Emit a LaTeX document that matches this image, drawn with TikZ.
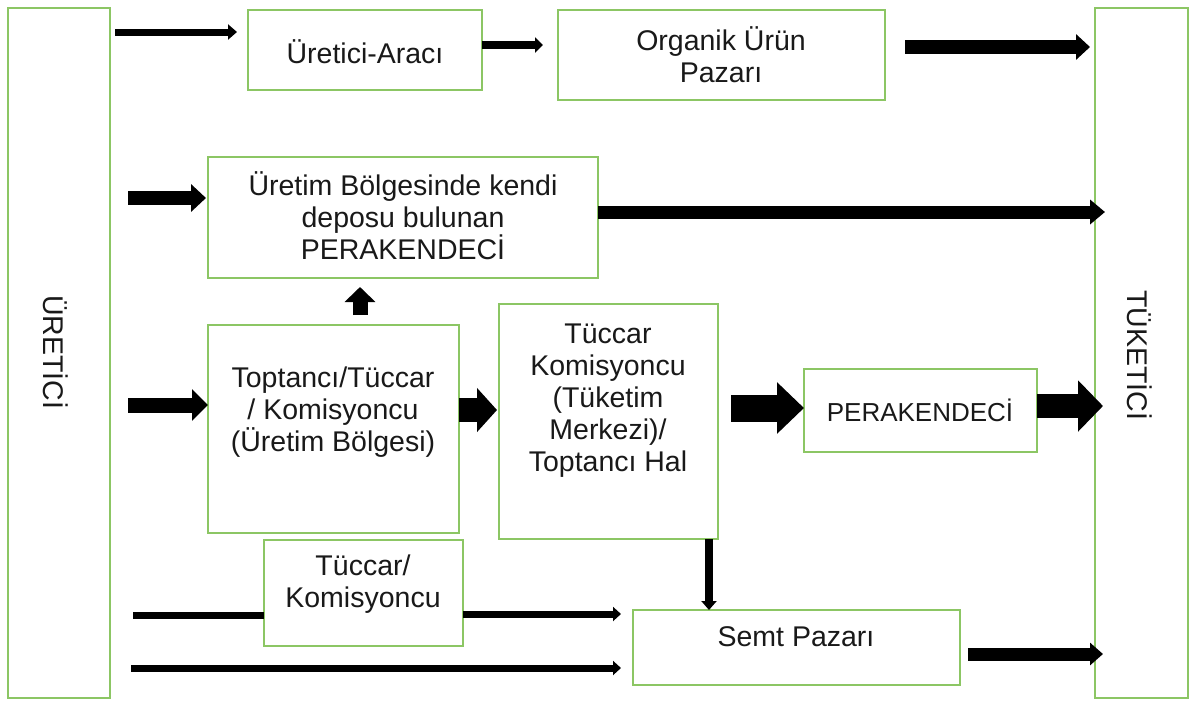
\documentclass[tikz,border=0pt]{standalone}
\usepackage{fontspec}
\setmainfont{Liberation Sans}
\usetikzlibrary{arrows.meta}
\definecolor{bgreen}{RGB}{140,198,100}
\definecolor{txt}{RGB}{25,25,25}
\begin{document}
\begin{tikzpicture}[x=1pt,y=-1pt,
  box/.style={draw=bgreen,line width=2pt,fill=white,inner sep=0pt,outer sep=0pt},
  lbl/.style={align=center,font=\fontsize{28.5}{32}\selectfont,text=txt,inner sep=0pt},
  arr/.style args={#1/#2/#3}{draw=black,line width=#1pt,-{Triangle[length=#2pt,width=#3pt]}}]
\useasboundingbox[fill=white] (0,0) rectangle (1191,702);

% side boxes
\node[box,minimum width=102pt,minimum height=690pt] (ur) at (59,353) {};
\node[lbl,rotate=-90] (urt) at (56,352) {ÜRETİCİ};
\node[box,minimum width=93pt,minimum height=690pt] (tu) at (1141.5,353) {};
\node[lbl,rotate=-90] (tut) at (1140,355) {TÜKETİCİ};

% inner boxes
\node[box,minimum width=234pt,minimum height=80pt] (ua) at (365,50) {};
\node[lbl] (uat) at (365,52) {Üretici-Aracı};
\node[box,minimum width=327pt,minimum height=90pt] (op) at (721.5,55) {};
\node[lbl] (opt) at (721,55) {Organik Ürün\\Pazarı};
\node[box,minimum width=390pt,minimum height=121pt] (ub) at (403,217.5) {};
\node[lbl] (ubt) at (403,216) {Üretim Bölgesinde kendi\\deposu bulunan\\PERAKENDECİ};
\node[box,minimum width=251pt,minimum height=208pt] (tp) at (333.5,429) {};
\node[lbl] (tpt) at (333,412) {Toptancı/Tüccar\\/ Komisyoncu\\(Üretim Bölgesi)};
\node[box,minimum width=219pt,minimum height=235pt] (tc) at (608.5,421.5) {};
\node[lbl] (tct) at (608,401) {Tüccar\\Komisyoncu\\(Tüketim\\Merkezi)/\\Toptancı Hal};
\node[box,minimum width=233pt,minimum height=83pt] (pk) at (920.5,410.5) {};
\node[lbl,font=\fontsize{26}{30}\selectfont] (pkt) at (920,410) {PERAKENDECİ};
\node[box,minimum width=199pt,minimum height=106pt] (tk) at (363.5,593) {};
\node[lbl] (tkt) at (363,584) {Tüccar/\\Komisyoncu};
\node[box,minimum width=327pt,minimum height=75pt] (sp) at (796.5,647.5) {};
\node[lbl] (spt) at (796,637) {Semt Pazarı};

% free-end coordinates
\coordinate (a1s) at (115,32);  \coordinate (a1e) at (237,32);
\coordinate (a2e) at (543,45);
\coordinate (a3s) at (905,47);  \coordinate (a3e) at (1090,47);
\coordinate (a4s) at (128,198); \coordinate (a4e) at (206,198);
\coordinate (a5e) at (1105,212);
\coordinate (a6s) at (360,315); \coordinate (a6e) at (360,287);
\coordinate (a7s) at (128,405);
\coordinate (a8e) at (497,410);
\coordinate (a9s) at (731,408);
\coordinate (a10e) at (1103,406);
\coordinate (b1s) at (133,615); \coordinate (b1e) at (621,614);
\coordinate (b2s) at (131,668); \coordinate (b2e) at (621,668);
\coordinate (a14s) at (968,654); \coordinate (a14e) at (1103,654);

% connectors
\draw[arr=7/9/15] (a1s) -- (a1e);
\draw[arr=8/8/15] (ua.east |- a2e) -- (a2e);
\draw[arr=14/14/25] (a3s) -- (a3e);
\draw[arr=14/15/27] (a4s) -- (a4e);
\draw[arr=13/15/24] (ub.east |- a5e) -- (a5e);
\draw[arr=15/15/30] (a6s) -- (a6e);
\draw[arr=15/16/31] (a7s) -- (a7s -| tp.west);
\draw[arr=24/20/43] (tp.east |- a8e) -- (a8e);
\draw[arr=27/27/50] (a9s) -- (a9s -| pk.west);
\draw[arr=24/25/50] (pk.east |- a10e) -- (a10e);
\draw[arr=8/9/15] ([xshift=-9pt]tc.south east) -- ([xshift=-9pt]tc.south east |- sp.north);
\draw[line width=7pt] (b1s) -- (b1s -| tk.west);
\draw[arr=7/8/14] (tk.east |- b1e) -- (b1e);
\draw[arr=7/8/14] (b2s) -- (b2e);
\draw[arr=13/13/22] (a14s) -- (a14e);
\end{tikzpicture}
\end{document}
